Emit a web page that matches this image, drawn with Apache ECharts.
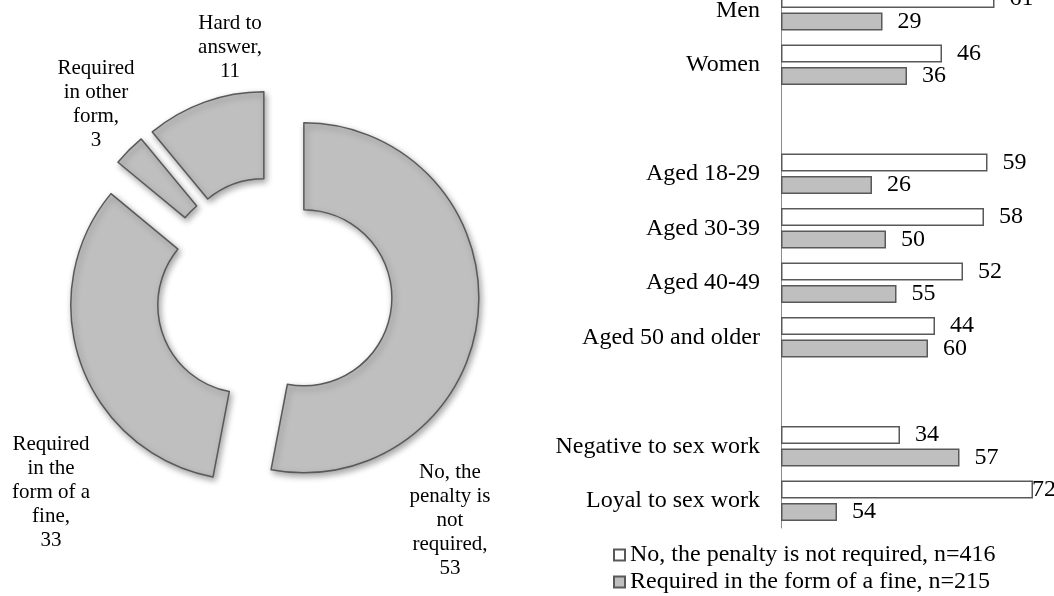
<!DOCTYPE html>
<html>
<head>
<meta charset="utf-8">
<script src="https://cdn.jsdelivr.net/npm/echarts@6/dist/echarts.min.js"></script>
<style>
  html, body { margin:0; padding:0; background:#fff; }
  #main { width:1054px; height:596px; }
</style>
</head>
<body>
<div id="main"></div>
<script>
// donut data (left)
var pieNames = ['No, the penalty is not required', 'Required in the form of a fine', 'Required in other form', 'Hard to answer'];
var pieValues = [53, 33, 3, 11];
var pieLabelText = ['No, the\npenalty is\nnot\nrequired,', 'Required\nin the\nform of a\nfine,', 'Required\nin other\nform,', 'Hard to\nanswer,'];

// bar data (right), '' = empty spacer rows
var categories = ['Men', 'Women', '', 'Aged 18-29', 'Aged 30-39', 'Aged 40-49', 'Aged 50 and older', '', 'Negative to sex work', 'Loyal to sex work'];
var seriesNames = ['No, the penalty is not required, n=416', 'Required in the form of a fine, n=215'];
// printed numbers
var notRequiredLabels = [61, 46, null, 59, 58, 52, 44, null, 34, 72];
var fineLabels = [29, 36, null, 26, 50, 55, 60, null, 57, 54];
// bar lengths as drawn in the picture (some grey bars don't match their printed number)
var notRequiredBars = [61, 46, null, 59, 58, 52, 44, null, 34, 72];
var fineBars = [29, 36, null, 26, 30, 33, 42, null, 51, 16];

var font = "'Liberation Serif', 'Times New Roman', serif";
var edge = '#595959';
var explode = 30;

var myChart = echarts.init(document.getElementById('main'));

//centre spots for the donut texts
var pieLabelPos = [[450, 520], [51, 492], [96, 104], [230, 47]];

//direction each slice is pulled out to (clockwise from 12 o'clock)
var pieTotal = pieValues.reduce(function(a, b){ return a + b; }, 0);
var pieShift = [];
var acc = 0;
for (var i = 0; i < pieValues.length; i++) {
	var mid = (acc + pieValues[i] / 2) / pieTotal * Math.PI * 2;
	pieShift.push([Math.sin(mid) * explode, -Math.cos(mid) * explode]);
	acc += pieValues[i];
}

function barData(bars, tightLast){
	return bars.map(function(v, i){
		if(v === null) return '-';
		var item = { value: v };
		// last label sits right on the bar end, like the original
		if(tightLast && i === bars.length - 1){
			item.label = { distance: -1 };
		}
		return item;
	});
}

var option = {
	animation: false,
	backgroundColor: '#ffffff',
	textStyle: { fontFamily: font },
	legend: {
		data: seriesNames,
		orient: 'vertical',
		left: 613,
		top: 543,
		padding: 0,
		itemWidth: 11,
		itemHeight: 11,
		itemGap: 3,
		icon: 'rect',
		textStyle: { fontFamily: font, fontSize: 24, lineHeight: 24, color: '#000' }
	},
	grid: {
		left: 781,
		top: -17,
		width: 266,
		height: 545,
		outerBoundsMode: 'none',
		containLabel: false
	},
	xAxis: {
		type: 'value',
		min: 0,
		max: 76,
		show: false
	},
	yAxis: {
		type: 'category',
		inverse: true,
		data: categories,
		axisLine: { show: true, lineStyle: { color: '#8c8c8c', width: 1 } },
		axisTick: { show: false },
		splitLine: { show: false },
		axisLabel: { fontFamily: font, fontSize: 24, color: '#000', margin: 21 }
	},
	series: [
		{
			name: seriesNames[0],
			type: 'bar',
			barWidth: 18,
			barGap: '24%',
			data: barData(notRequiredBars, true),
			itemStyle: { color: '#ffffff', borderColor: edge, borderWidth: 1.5 },
			label: {
				show: true,
				position: 'right',
				distance: 15,
				fontFamily: font,
				fontSize: 24,
				color: '#000',
				formatter: function(p){ return notRequiredLabels[p.dataIndex]; }
			}
		},
		{
			name: seriesNames[1],
			type: 'bar',
			barWidth: 18,
			data: barData(fineBars, false),
			itemStyle: { color: '#bfbfbf', borderColor: edge, borderWidth: 1.5 },
			label: {
				show: true,
				position: 'right',
				distance: 15,
				fontFamily: font,
				fontSize: 24,
				color: '#000',
				formatter: function(p){ return fineLabels[p.dataIndex]; }
			}
		},
		{
			name: 'donut',
			type: 'pie',
			center: [274, 295],
			radius: [88, 175],
			startAngle: 90,
			clockwise: true,
			selectedMode: 'multiple',
			selectedOffset: explode,
			emphasis: { disabled: true },
			itemStyle: {
				color: '#bfbfbf',
				borderColor: edge,
				borderWidth: 1.5,
				shadowBlur: 6,
				shadowOffsetX: 2,
				shadowOffsetY: 3,
				shadowColor: 'rgba(0,0,0,0.35)'
			},
			label: {
				show: true,
				position: 'inside',
				rotate: 0,
				overflow: 'none',
				fontFamily: font,
				fontSize: 21,
				lineHeight: 24,
				color: '#000',
				align: 'center',
				formatter: function(p){ return pieLabelText[p.dataIndex] + '\n' + p.value; }
			},
			labelLine: { show: false },
			// move each label from the ring out to its spot
			// (labelRect doesn't count the pulled-out offset, so take it off)
			labelLayout: function(params){
				var pos = pieLabelPos[params.dataIndex];
				var sh = pieShift[params.dataIndex];
				var r = params.labelRect;
				return {
					dx: pos[0] - (r.x + r.width / 2) - sh[0],
					dy: pos[1] - (r.y + r.height / 2) - sh[1]
				};
			},
			data: pieNames.map(function(n, i){
				return { name: n, value: pieValues[i], selected: true };
			})
		}
	]
};

myChart.setOption(option);
</script>
</body>
</html>
